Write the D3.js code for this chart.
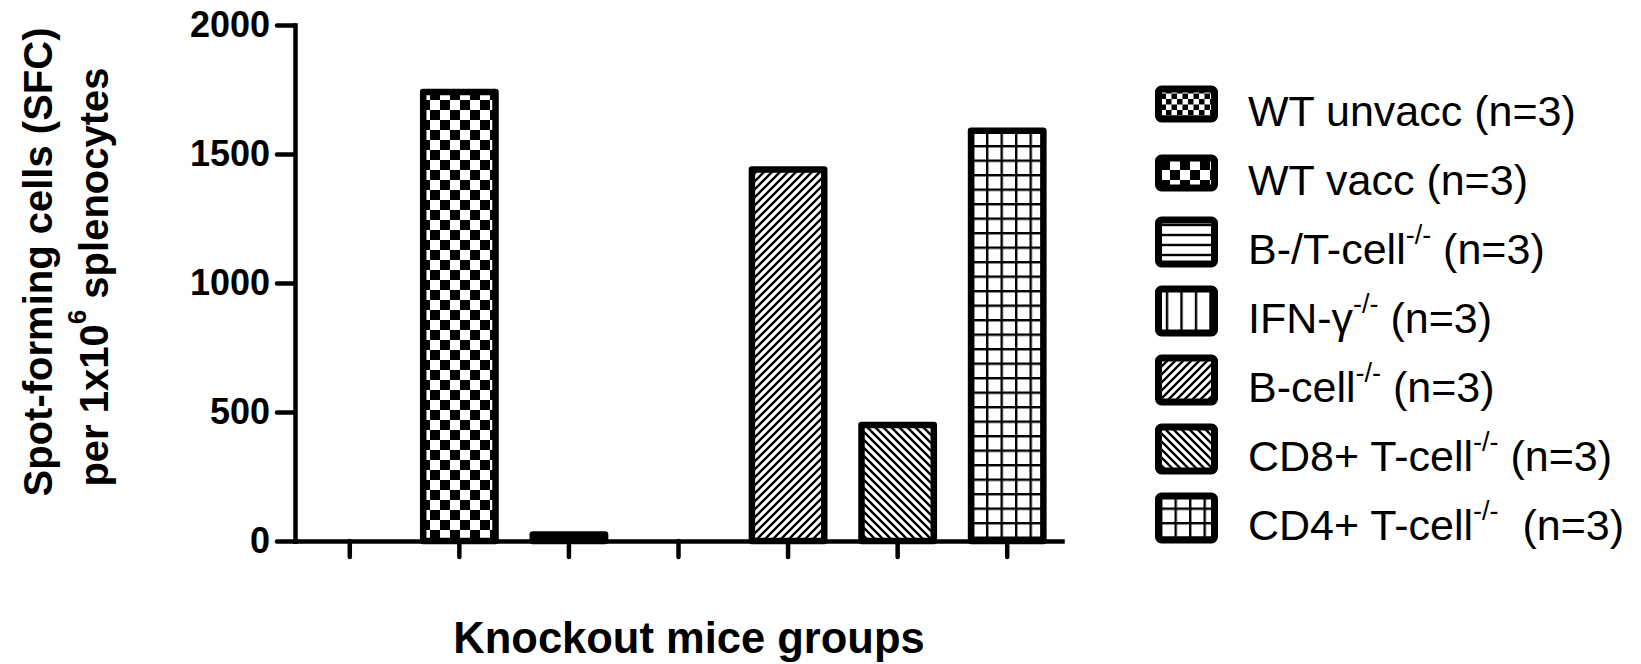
<!DOCTYPE html>
<html>
<head>
<meta charset="utf-8">
<script src="https://cdn.jsdelivr.net/npm/d3@7"></script>
<style>
  body { margin: 0; background: #fff; }
  svg text { font-family: "Liberation Sans", Arial, Helvetica, sans-serif; white-space: pre; }
</style>
</head>
<body>
<svg id="chart" width="1641" height="664"></svg>
<script>
// ELISPOT response per knockout group (SFC per 1x10^6 splenocytes)
const groups = ["WT unvacc", "WT vacc", "B-/T-cell", "IFN-γ", "B-cell", "CD8+ T-cell", "CD4+ T-cell"];
const sfcValues = [0, 1740, 25, 0, 1440, 450, 1590];
const fillPatterns = ["fineChecker", "checker", "hLines", "vLines", "diagUp", "diagDown", "grid"];
const yTicks = [0, 500, 1000, 1500, 2000];
// legend entries: [name, superscript, trailing text]
const legendLabels = [
  ["WT unvacc", "", " (n=3)"],
  ["WT vacc", "", " (n=3)"],
  ["B-/T-cell", "-/-", " (n=3)"],
  ["IFN-γ", "-/-", " (n=3)"],
  ["B-cell", "-/-", " (n=3)"],
  ["CD8+ T-cell", "-/-", " (n=3)"],
  ["CD4+ T-cell", "-/-", "  (n=3)"]
];

const svg = d3.select("#chart");
const plot = { left: 295, right: 1062, top: 25, bottom: 541 };

// ---- fill patterns ----
const defs = svg.append("defs");
function pattern(id, size) {
  const p = defs.append("pattern").attr("id", id)
    .attr("patternUnits", "userSpaceOnUse").attr("width", size).attr("height", size);
  p.append("rect").attr("width", size).attr("height", size).attr("fill", "#fff");
  return p;
}
{
  const p = pattern("fineChecker", 11);
  p.append("rect").attr("x", 0).attr("y", 0).attr("width", 5.5).attr("height", 5.5).attr("fill", "#000");
  p.append("rect").attr("x", 5.5).attr("y", 5.5).attr("width", 5.5).attr("height", 5.5).attr("fill", "#000");
}
{
  const p = pattern("checker", 20);
  p.append("rect").attr("x", 0).attr("y", 0).attr("width", 10).attr("height", 10).attr("fill", "#000");
  p.append("rect").attr("x", 10).attr("y", 10).attr("width", 10).attr("height", 10).attr("fill", "#000");
}
{
  const p = pattern("hLines", 10);
  p.append("path").attr("d", "M0,5H10").attr("stroke", "#000").attr("stroke-width", 2.4);
}
{
  const p = pattern("vLines", 14.5);
  p.append("path").attr("d", "M7,0V14.5").attr("stroke", "#000").attr("stroke-width", 2.4);
}
{
  const p = pattern("diagUp", 8);
  p.append("path").attr("d", "M0,8L8,0M-2,2L2,-2M6,10L10,6").attr("stroke", "#000").attr("stroke-width", 2.3);
}
{
  const p = pattern("diagDown", 8);
  p.append("path").attr("d", "M0,0L8,8M-2,6L2,10M6,-2L10,2").attr("stroke", "#000").attr("stroke-width", 2.3);
}
{
  const p = pattern("grid", 14.5);
  p.append("path").attr("d", "M1.2,0V14.5M0,1.2H14.5").attr("stroke", "#000").attr("stroke-width", 2.4);
}

// ---- scales ----
const x = d3.scaleBand().domain(groups).range([plot.left, plot.right])
  .paddingInner(0.34).paddingOuter(0.17);
const y = d3.scaleLinear().domain([0, 2000]).range([plot.bottom, plot.top]);

// ---- bars ----
svg.append("g").selectAll("rect")
  .data(groups.map((g, i) => ({ g, v: sfcValues[i], p: fillPatterns[i] })).filter(d => d.v > 0))
  .join("rect")
  .attr("x", d => x(d.g))
  .attr("width", x.bandwidth())
  .attr("y", d => y(d.v))
  .attr("height", d => y(0) - y(d.v))
  .attr("fill", d => `url(#${d.p})`)
  .attr("stroke", "#000")
  .attr("stroke-width", 6.5)
  .attr("stroke-linejoin", "round");

// ---- axes ----
const xAxis = svg.append("g").attr("transform", `translate(0,${plot.bottom})`)
  .call(d3.axisBottom(x).tickSize(16).tickSizeOuter(0).tickFormat(""));
const yAxis = svg.append("g").attr("transform", `translate(${plot.left},0)`)
  .call(d3.axisLeft(y).tickValues(yTicks).tickFormat(d3.format("d"))
    .tickSize(18).tickSizeOuter(0).tickPadding(7));

[xAxis, yAxis].forEach(a => {
  a.select(".domain").attr("stroke", "#000").attr("stroke-width", 4.5).attr("stroke-linecap", "square");
  a.selectAll(".tick line").attr("stroke", "#000").attr("stroke-width", 4.5).attr("stroke-linecap", "round");
});
yAxis.selectAll(".tick text")
  .attr("font-size", 36).attr("font-weight", "bold").attr("fill", "#000")
  .attr("font-family", "'Liberation Sans', Arial, sans-serif");

// ---- axis titles ----
svg.append("text")
  .attr("transform", "translate(38,262) rotate(-90)")
  .attr("text-anchor", "middle").attr("dominant-baseline", "central")
  .attr("font-size", 40).attr("font-weight", "bold")
  .text("Spot-forming cells (SFC)");
const yt2 = svg.append("text")
  .attr("transform", "translate(94,277) rotate(-90)")
  .attr("text-anchor", "middle").attr("dominant-baseline", "central")
  .attr("font-size", 40).attr("font-weight", "bold");
yt2.append("tspan").text("per 1x10");
yt2.append("tspan").attr("font-size", 26).attr("dy", -17).text("6");
yt2.append("tspan").attr("dy", 17).text(" splenocytes");

svg.append("text")
  .attr("x", 689).attr("y", 653)
  .attr("text-anchor", "middle")
  .attr("font-size", 43.5).attr("font-weight", "bold")
  .text("Knockout mice groups");

// ---- legend ----
const legend = svg.append("g");
legendLabels.forEach((lab, i) => {
  const cy = 104 + i * 69;
  const h = i < 2 ? 30 : 44;
  legend.append("rect")
    .attr("x", 1158.5).attr("y", cy - h / 2)
    .attr("width", 56).attr("height", h)
    .attr("rx", 3)
    .attr("fill", `url(#${fillPatterns[i]})`)
    .attr("stroke", "#000").attr("stroke-width", 7)
    .attr("stroke-linejoin", "round");
  const t = legend.append("text")
    .attr("x", 1248).attr("y", cy + 22)
    .attr("font-size", 43);
  t.append("tspan").text(lab[0]);
  if (lab[1]) {
    t.append("tspan").attr("font-size", 27).attr("dy", -20).text(lab[1]);
    t.append("tspan").attr("dy", 20).text(lab[2]);
  } else {
    t.append("tspan").text(lab[2]);
  }
});
</script>
</body>
</html>
